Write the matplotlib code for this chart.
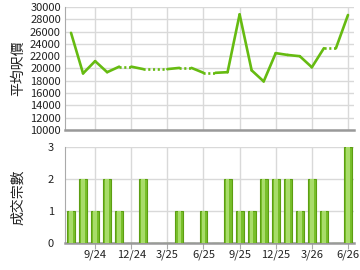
import numpy as np
import matplotlib.pyplot as plt

plt.rcParams['font.family'] = ['Noto Sans CJK TC', 'DejaVu Sans']

# months 7/24 .. 6/26
months = ['7/24', '8/24', '9/24', '10/24', '11/24', '12/24', '1/25', '2/25', '3/25',
          '4/25', '5/25', '6/25', '7/25', '8/25', '9/25', '10/25', '11/25', '12/25',
          '1/26', '2/26', '3/26', '4/26', '5/26', '6/26']
avg_price = [25800, 19200, 21200, 19400, 20300, None, 19900, None, None,
             20100, None, 19300, None, 19400, 28800, 19700, 17900, 22500,
             22200, 22000, 20200, 23300, None, 28700]
deals = [1, 2, 1, 2, 1, 0, 2, 0, 0, 1, 0, 1, 0, 2, 1, 1, 2, 2, 2, 1, 2, 1, 0, 3]
tick_labels = ['9/24', '12/24', '3/25', '6/25', '9/25', '12/25', '3/26', '6/26']

x = np.arange(len(months))
tick_pos = [months.index(t) for t in tick_labels]
green = '#66bb11'
grid_c = '#d9d9d9'

fig = plt.figure(figsize=(3.6, 2.7), dpi=100)
ax1 = fig.add_axes([65/360, 1-130/270, 289/360, 123/270])
ax2 = fig.add_axes([65/360, 1-243/270, 289/360, 96/270])

# line: solid between real points, dotted carry-over across gaps
last = None
for i, v in enumerate(avg_price):
    if v is None:
        continue
    if last is not None:
        lv = avg_price[last]
        if i - last == 1:
            ax1.plot([last, i], [lv, v], color=green, lw=1.9, solid_capstyle='round')
        else:
            ax1.plot([last, i - 1], [lv, lv], color=green, lw=1.9, ls=(0, (0.8, 1.0)))
            ax1.plot([i - 1, i], [lv, v], color=green, lw=1.9, solid_capstyle='round')
    last = i

ax1.set_ylim(10000, 30000)
ax1.set_yticks(range(10000, 30001, 2000))
ax1.set_xlim(-0.5, len(months) - 0.5)
ax1.set_xticks(tick_pos)
ax1.tick_params(axis='x', labelbottom=False, length=0)
ax1.tick_params(axis='y', length=0, labelsize=8, pad=3, labelcolor='#222222')

# bars
ax2.bar(x, deals, width=0.66, color='#78bf2a', edgecolor='#5c9e12', linewidth=0.8, zorder=3)
ax2.bar(x, deals, width=0.3, color='#a8dc6a', linewidth=0, zorder=4)
ax2.set_ylim(0, 3)
ax2.set_yticks([0, 1, 2, 3])
ax2.set_xlim(-0.5, len(months) - 0.5)
ax2.set_xticks(tick_pos)
ax2.set_xticklabels(tick_labels)
ax2.tick_params(axis='x', length=4, color='#aaaaaa', labelsize=8, pad=1, labelcolor='#222222')
ax2.tick_params(axis='y', length=0, labelsize=8, pad=8, labelcolor='#222222')

for ax in (ax1, ax2):
    ax.grid(True, color=grid_c, lw=1)
    ax.set_axisbelow(True)
    ax.spines['top'].set_visible(False)
    ax.spines['right'].set_visible(False)
    ax.spines['left'].set_color('#aaaaaa')
    ax.spines['bottom'].set_color('#999999')
    ax.spines['bottom'].set_linewidth(1.8)

fig.text(18/360, 1-68/270, '平均呎價', rotation=90, ha='center', va='center', fontsize=10, color='#222222')
fig.text(18/360, 1-197/270, '成交宗數', rotation=90, ha='center', va='center', fontsize=10, color='#222222')

fig.savefig('out.png', dpi=100)
